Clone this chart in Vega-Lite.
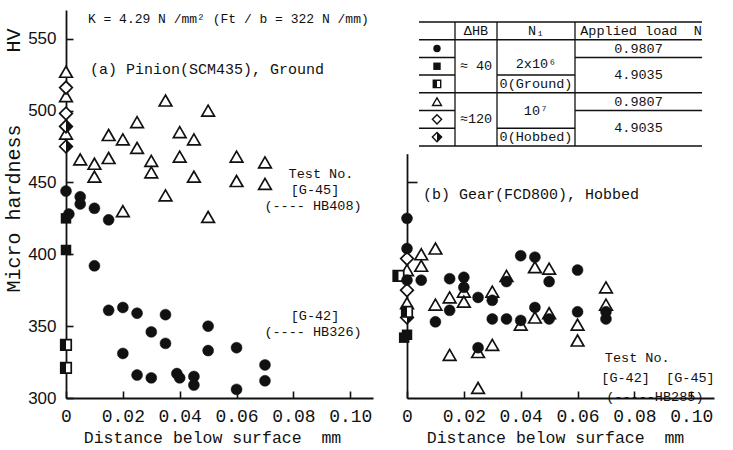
{
"$schema": "https://vega.github.io/schema/vega-lite/v6.json",
"background": "white",
"padding": {"left": 3, "top": 10, "right": 5, "bottom": 0},
"spacing": 34,
"bounds": "flush",
"config": {
  "view": {"stroke": null},
  "axis": {"domainColor": "#111", "domainWidth": 1.8, "tickColor": "#111", "tickWidth": 1.6, "labelColor": "#111", "titleColor": "#111", "grid": false, "labelOverlap": false, "labelFlush": false},
  "text": {"font": "Liberation Mono, DejaVu Sans Mono", "color": "#111"}
},
"datasets": {
  "pts": [
    {"panel":"a","sym":"tri","x":0,"y":527},{"panel":"a","sym":"tri","x":0,"y":510},{"panel":"a","sym":"tri","x":0,"y":484},
    {"panel":"a","sym":"tri","x":0.005,"y":466},{"panel":"a","sym":"tri","x":0.01,"y":463},{"panel":"a","sym":"tri","x":0.01,"y":454},
    {"panel":"a","sym":"tri","x":0.015,"y":483},{"panel":"a","sym":"tri","x":0.015,"y":467},{"panel":"a","sym":"tri","x":0.02,"y":480},
    {"panel":"a","sym":"tri","x":0.02,"y":430},{"panel":"a","sym":"tri","x":0.025,"y":492},{"panel":"a","sym":"tri","x":0.025,"y":474},
    {"panel":"a","sym":"tri","x":0.03,"y":465},{"panel":"a","sym":"tri","x":0.03,"y":457},{"panel":"a","sym":"tri","x":0.035,"y":507},
    {"panel":"a","sym":"tri","x":0.035,"y":441},{"panel":"a","sym":"tri","x":0.04,"y":485},{"panel":"a","sym":"tri","x":0.04,"y":468},
    {"panel":"a","sym":"tri","x":0.045,"y":480},{"panel":"a","sym":"tri","x":0.045,"y":454},{"panel":"a","sym":"tri","x":0.05,"y":500},
    {"panel":"a","sym":"tri","x":0.05,"y":426},{"panel":"a","sym":"tri","x":0.06,"y":468},{"panel":"a","sym":"tri","x":0.06,"y":451},
    {"panel":"a","sym":"tri","x":0.07,"y":464},{"panel":"a","sym":"tri","x":0.07,"y":449},
    {"panel":"a","sym":"dia","x":0,"y":516},{"panel":"a","sym":"dia","x":0,"y":498},
    {"panel":"a","sym":"hdia","x":0,"y":489},{"panel":"a","sym":"hdia","x":0,"y":475},
    {"panel":"a","sym":"hsq","x":0,"y":337},{"panel":"a","sym":"hsq","x":0,"y":321},
    {"panel":"a","sym":"circ","x":0,"y":444},{"panel":"a","sym":"circ","x":0.001,"y":428},{"panel":"a","sym":"circ","x":0.005,"y":440},
    {"panel":"a","sym":"circ","x":0.005,"y":435},{"panel":"a","sym":"circ","x":0.01,"y":432},{"panel":"a","sym":"circ","x":0.01,"y":392},
    {"panel":"a","sym":"circ","x":0.015,"y":424},{"panel":"a","sym":"circ","x":0.015,"y":361},{"panel":"a","sym":"circ","x":0.02,"y":363},
    {"panel":"a","sym":"circ","x":0.02,"y":331},{"panel":"a","sym":"circ","x":0.025,"y":359},{"panel":"a","sym":"circ","x":0.025,"y":316},
    {"panel":"a","sym":"circ","x":0.03,"y":346},{"panel":"a","sym":"circ","x":0.03,"y":314},{"panel":"a","sym":"circ","x":0.035,"y":358},
    {"panel":"a","sym":"circ","x":0.035,"y":338},{"panel":"a","sym":"circ","x":0.039,"y":317},{"panel":"a","sym":"circ","x":0.04,"y":314},
    {"panel":"a","sym":"circ","x":0.045,"y":315},{"panel":"a","sym":"circ","x":0.045,"y":309},{"panel":"a","sym":"circ","x":0.05,"y":350},
    {"panel":"a","sym":"circ","x":0.05,"y":333},{"panel":"a","sym":"circ","x":0.06,"y":335},{"panel":"a","sym":"circ","x":0.06,"y":306},
    {"panel":"a","sym":"circ","x":0.07,"y":323},{"panel":"a","sym":"circ","x":0.07,"y":312},
    {"panel":"a","sym":"sq","x":0,"y":425},{"panel":"a","sym":"sq","x":0,"y":403},

    {"panel":"b","sym":"tri","x":0,"y":389},{"panel":"b","sym":"tri","x":0,"y":366},{"panel":"b","sym":"tri","x":0.005,"y":400},
    {"panel":"b","sym":"tri","x":0.005,"y":392},{"panel":"b","sym":"tri","x":0.01,"y":404},{"panel":"b","sym":"tri","x":0.01,"y":365},
    {"panel":"b","sym":"tri","x":0.015,"y":370},{"panel":"b","sym":"tri","x":0.015,"y":330},{"panel":"b","sym":"tri","x":0.02,"y":374},
    {"panel":"b","sym":"tri","x":0.02,"y":367},{"panel":"b","sym":"tri","x":0.025,"y":332},{"panel":"b","sym":"tri","x":0.025,"y":307},
    {"panel":"b","sym":"tri","x":0.03,"y":374},{"panel":"b","sym":"tri","x":0.03,"y":337},{"panel":"b","sym":"tri","x":0.035,"y":385},
    {"panel":"b","sym":"tri","x":0.04,"y":351},{"panel":"b","sym":"tri","x":0.045,"y":391},{"panel":"b","sym":"tri","x":0.045,"y":356},
    {"panel":"b","sym":"tri","x":0.05,"y":390},{"panel":"b","sym":"tri","x":0.05,"y":359},{"panel":"b","sym":"tri","x":0.06,"y":351},
    {"panel":"b","sym":"tri","x":0.06,"y":340},{"panel":"b","sym":"tri","x":0.07,"y":377},{"panel":"b","sym":"tri","x":0.07,"y":365},
    {"panel":"b","sym":"dia","x":0,"y":397},{"panel":"b","sym":"dia","x":0,"y":375},
    {"panel":"b","sym":"hdia","x":0,"y":356},
    {"panel":"b","sym":"hsq","x":-0.003,"y":385},{"panel":"b","sym":"hsq","x":0,"y":360},
    {"panel":"b","sym":"circ","x":0,"y":425},{"panel":"b","sym":"circ","x":0,"y":404},{"panel":"b","sym":"circ","x":0,"y":382},
    {"panel":"b","sym":"circ","x":0.005,"y":382},{"panel":"b","sym":"circ","x":0.01,"y":353},{"panel":"b","sym":"circ","x":0.015,"y":383},
    {"panel":"b","sym":"circ","x":0.015,"y":361},{"panel":"b","sym":"circ","x":0.02,"y":384},{"panel":"b","sym":"circ","x":0.02,"y":377},
    {"panel":"b","sym":"circ","x":0.025,"y":370},{"panel":"b","sym":"circ","x":0.025,"y":335},{"panel":"b","sym":"circ","x":0.03,"y":368},
    {"panel":"b","sym":"circ","x":0.03,"y":355},{"panel":"b","sym":"circ","x":0.035,"y":355},{"panel":"b","sym":"circ","x":0.035,"y":381},
    {"panel":"b","sym":"circ","x":0.04,"y":399},{"panel":"b","sym":"circ","x":0.04,"y":354},{"panel":"b","sym":"circ","x":0.045,"y":398},
    {"panel":"b","sym":"circ","x":0.045,"y":363},{"panel":"b","sym":"circ","x":0.05,"y":381},{"panel":"b","sym":"circ","x":0.05,"y":355},
    {"panel":"b","sym":"circ","x":0.06,"y":389},{"panel":"b","sym":"circ","x":0.06,"y":360},{"panel":"b","sym":"circ","x":0.07,"y":360},
    {"panel":"b","sym":"circ","x":0.07,"y":355},
    {"panel":"b","sym":"sq","x":0,"y":344},{"panel":"b","sym":"sq","x":-0.001,"y":342}
  ],
  "notes": [
    {"panel":"a","kind":"head","x":0.0084,"y":529,"label":"(a) Pinion(SCM435), Ground"},
    {"panel":"a","kind":"k","x":0.0077,"y":563.5,"label":"K = 4.29 N /mm² (Ft / b = 322 N /mm)"},
    {"panel":"a","kind":"note","x":0.0897,"y":456,"label":"Test No."},
    {"panel":"a","kind":"note","x":0.0876,"y":444.5,"label":"[G-45]"},
    {"panel":"a","kind":"note","x":0.0869,"y":433.5,"label":"(---- HB408)"},
    {"panel":"a","kind":"note","x":0.0876,"y":357,"label":"[G-42]"},
    {"panel":"a","kind":"note","x":0.0869,"y":346,"label":"(---- HB326)"},
    {"panel":"b","kind":"head","x":0.0056,"y":442,"label":"(b) Gear(FCD800), Hobbed"},
    {"panel":"b","kind":"note","x":0.081,"y":328,"label":"Test No."},
    {"panel":"b","kind":"note","x":0.0883,"y":314,"label":"[G-42]\u00a0\u00a0[G-45]"},
    {"panel":"b","kind":"note","x":0.0872,"y":300.5,"label":"(-----HB285)"}
  ],
  "tblh": [
    {"u1":0,"u2":283,"r":0},{"u1":0,"u2":283,"r":1},{"u1":0,"u2":36,"r":2},{"u1":156,"u2":283,"r":2},
    {"u1":0,"u2":36,"r":3},{"u1":78,"u2":156,"r":3},{"u1":0,"u2":283,"r":4},{"u1":0,"u2":36,"r":5},
    {"u1":156,"u2":283,"r":5},{"u1":0,"u2":36,"r":6},{"u1":78,"u2":156,"r":6},{"u1":0,"u2":283,"r":7}
  ],
  "tblv": [
    {"u":36,"r1":0,"r2":7},{"u":78,"r1":0,"r2":7},{"u":156,"r1":0,"r2":7}
  ],
  "tblt": [
    {"u":57,"r":0.5,"label":"ΔHB"},{"u":117,"r":0.5,"label":"N₁"},{"u":222,"r":0.5,"label":"Applied load\u00a0\u00a0N"},
    {"u":57,"r":2.5,"label":"≈ 40"},{"u":117,"r":2.4,"label":"2x10⁶"},{"u":117,"r":3.5,"label":"0(Ground)"},
    {"u":219.5,"r":1.5,"label":"0.9807"},{"u":219.5,"r":3,"label":"4.9035"},
    {"u":57,"r":5.5,"label":"≈120"},{"u":117,"r":5,"label":"10⁷"},{"u":117,"r":6.5,"label":"0(Hobbed)"},
    {"u":219.5,"r":4.5,"label":"0.9807"},{"u":219.5,"r":6,"label":"4.9035"}
  ],
  "tbls": [
    {"sym":"circ","u":18,"r":1.5},{"sym":"sq","u":18,"r":2.5},{"sym":"hsq","u":18,"r":3.5},
    {"sym":"tri","u":18,"r":4.5},{"sym":"dia","u":18,"r":5.5},{"sym":"hdia","u":18,"r":6.5}
  ]
},
"hconcat": [
  {
    "width": 307, "height": 388,
    "encoding": {
      "x": {"field":"x","type":"quantitative","scale":{"domain":[0,0.108],"nice":false,"zero":false},
        "axis":{"values":[0,0.02,0.04,0.06,0.08,0.1],"labelExpr":"datum.value == 0 ? '0' : format(datum.value, '.2f')","tickSize":-7,"labelPadding":16,"labelFont":"Liberation Mono","labelFontSize":18,"title":"Distance below surface\u00a0\u00a0mm","titleFont":"Liberation Mono","titleFontSize":16.5,"titleFontWeight":"normal","titleX":146,"titleY":39,"titleBaseline":"middle","titleAlign":"center"}},
      "y": {"field":"y","type":"quantitative","scale":{"domain":[300,570],"nice":false,"zero":false},
        "axis":{"values":[300,350,400,450,500,550],"tickSize":-7,"labelPadding":17,"labelFont":"Liberation Sans","labelFontSize":17,"title":"Micro hardness\u00a0\u00a0\u00a0\u00a0\u00a0\u00a0HV","titleFont":"Liberation Mono","titleFontSize":20,"titleFontWeight":"normal","titleAngle":270,"titleAlign":"right","titleBaseline":"middle","titleX":-53,"titleY":18}}
    },
    "layer": [
      {"data":{"name":"pts"},"transform":[{"filter":"datum.panel == 'a'"}],
       "layer":[
         {"transform":[{"filter":"datum.sym == 'tri'"}],"mark":{"type":"point","shape":"triangle-up","size":160,"filled":true,"fill":"white","stroke":"#111","strokeWidth":1.7,"opacity":1}},
         {"transform":[{"filter":"datum.sym == 'dia' || datum.sym == 'hdia'"}],"mark":{"type":"point","shape":"diamond","size":160,"filled":true,"fill":"white","stroke":"#111","strokeWidth":1.7,"opacity":1}},
         {"transform":[{"filter":"datum.sym == 'hdia'"}],"mark":{"type":"point","shape":"M0,-1L1,0L0,1Z","size":160,"filled":true,"fill":"#111","strokeWidth":0,"opacity":1}},
         {"transform":[{"filter":"datum.sym == 'hsq'"}],"mark":{"type":"point","shape":"square","size":110,"filled":true,"fill":"white","stroke":"#111","strokeWidth":1.7,"opacity":1}},
         {"transform":[{"filter":"datum.sym == 'hsq'"}],"mark":{"type":"point","shape":"M-1,-1L0,-1L0,1L-1,1Z","size":110,"filled":true,"fill":"#111","strokeWidth":0,"opacity":1}},
         {"transform":[{"filter":"datum.sym == 'circ'"}],"mark":{"type":"point","shape":"circle","size":120,"filled":true,"fill":"#111","stroke":"#111","strokeWidth":0.5,"opacity":1}},
         {"transform":[{"filter":"datum.sym == 'sq'"}],"mark":{"type":"point","shape":"square","size":110,"filled":true,"fill":"#111","opacity":1}}
       ]},
      {"data":{"name":"notes"},"transform":[{"filter":"datum.panel == 'a'"}],
       "layer":[
         {"transform":[{"filter":"datum.kind == 'head'"}],"mark":{"type":"text","align":"left","baseline":"middle","fontSize":15},"encoding":{"text":{"field":"label","type":"nominal"}}},
         {"transform":[{"filter":"datum.kind == 'k'"}],"mark":{"type":"text","align":"left","baseline":"middle","fontSize":13},"encoding":{"text":{"field":"label","type":"nominal"}}},
         {"transform":[{"filter":"datum.kind == 'note'"}],"mark":{"type":"text","align":"center","baseline":"middle","fontSize":13.5},"encoding":{"text":{"field":"label","type":"nominal"}}}
       ]}
    ]
  },
  {
    "width": 307, "height": 388,
    "layer": [
      {
        "encoding": {
          "x": {"field":"x","type":"quantitative","scale":{"domain":[0,0.108],"nice":false,"zero":false},
            "axis":{"values":[0,0.02,0.04,0.06,0.08,0.1],"labelExpr":"datum.value == 0 ? '0' : format(datum.value, '.2f')","tickSize":-7,"labelPadding":16,"labelFont":"Liberation Mono","labelFontSize":18,"title":"Distance below surface\u00a0\u00a0mm","titleFont":"Liberation Mono","titleFontSize":16.5,"titleFontWeight":"normal","titleX":148,"titleY":39,"titleBaseline":"middle","titleAlign":"center"}},
          "y": {"field":"y","type":"quantitative","scale":{"domain":[300,470],"nice":false,"zero":false,"range":[388,143.7]},
            "axis":{"values":[450],"tickSize":-10,"labels":false,"title":null}}
        },
        "layer": [
          {"data":{"name":"pts"},"transform":[{"filter":"datum.panel == 'b'"}],
           "layer":[
             {"transform":[{"filter":"datum.sym == 'tri'"}],"mark":{"type":"point","shape":"triangle-up","size":160,"filled":true,"fill":"white","stroke":"#111","strokeWidth":1.7,"opacity":1}},
             {"transform":[{"filter":"datum.sym == 'dia' || datum.sym == 'hdia'"}],"mark":{"type":"point","shape":"diamond","size":160,"filled":true,"fill":"white","stroke":"#111","strokeWidth":1.7,"opacity":1}},
             {"transform":[{"filter":"datum.sym == 'hdia'"}],"mark":{"type":"point","shape":"M0,-1L1,0L0,1Z","size":160,"filled":true,"fill":"#111","strokeWidth":0,"opacity":1}},
             {"transform":[{"filter":"datum.sym == 'hsq'"}],"mark":{"type":"point","shape":"square","size":110,"filled":true,"fill":"white","stroke":"#111","strokeWidth":1.7,"opacity":1}},
             {"transform":[{"filter":"datum.sym == 'hsq'"}],"mark":{"type":"point","shape":"M-1,-1L0,-1L0,1L-1,1Z","size":110,"filled":true,"fill":"#111","strokeWidth":0,"opacity":1}},
             {"transform":[{"filter":"datum.sym == 'circ'"}],"mark":{"type":"point","shape":"circle","size":120,"filled":true,"fill":"#111","stroke":"#111","strokeWidth":0.5,"opacity":1}},
             {"transform":[{"filter":"datum.sym == 'sq'"}],"mark":{"type":"point","shape":"square","size":110,"filled":true,"fill":"#111","opacity":1}}
           ]},
          {"data":{"name":"notes"},"transform":[{"filter":"datum.panel == 'b'"}],
           "layer":[
             {"transform":[{"filter":"datum.kind == 'head'"}],"mark":{"type":"text","align":"left","baseline":"middle","fontSize":15},"encoding":{"text":{"field":"label","type":"nominal"}}},
             {"transform":[{"filter":"datum.kind == 'note'"}],"mark":{"type":"text","align":"center","baseline":"middle","fontSize":13.5},"encoding":{"text":{"field":"label","type":"nominal"}}}
           ]}
        ]
      },
      {
        "layer": [
          {"data":{"name":"tblh"},"mark":{"type":"rule","strokeWidth":1.5,"color":"#111"},
           "encoding":{"x":{"field":"u1","type":"quantitative","scale":{"domain":[-12,295],"nice":false,"zero":false},"axis":null},"x2":{"field":"u2"},
                       "y":{"field":"r","type":"quantitative","scale":{"domain":[-0.678,21.243],"nice":false,"zero":false,"reverse":true},"axis":null}}},
          {"data":{"name":"tblv"},"mark":{"type":"rule","strokeWidth":1.3,"color":"#111"},
           "encoding":{"x":{"field":"u","type":"quantitative","scale":{"domain":[-12,295],"nice":false,"zero":false},"axis":null},
                       "y":{"field":"r1","type":"quantitative","scale":{"domain":[-0.678,21.243],"nice":false,"zero":false,"reverse":true},"axis":null},"y2":{"field":"r2"}}},
          {"data":{"name":"tblt"},"mark":{"type":"text","align":"center","baseline":"middle","fontSize":13.5},
           "encoding":{"x":{"field":"u","type":"quantitative","scale":{"domain":[-12,295],"nice":false,"zero":false},"axis":null},
                       "y":{"field":"r","type":"quantitative","scale":{"domain":[-0.678,21.243],"nice":false,"zero":false,"reverse":true},"axis":null},
                       "text":{"field":"label","type":"nominal"}}},
          {"data":{"name":"tbls"},
           "encoding":{"x":{"field":"u","type":"quantitative","scale":{"domain":[-12,295],"nice":false,"zero":false},"axis":null},
                       "y":{"field":"r","type":"quantitative","scale":{"domain":[-0.678,21.243],"nice":false,"zero":false,"reverse":true},"axis":null}},
           "layer":[
             {"transform":[{"filter":"datum.sym == 'tri'"}],"mark":{"type":"point","shape":"triangle-up","size":80,"filled":true,"fill":"white","stroke":"#111","strokeWidth":1.4,"opacity":1}},
             {"transform":[{"filter":"datum.sym == 'dia' || datum.sym == 'hdia'"}],"mark":{"type":"point","shape":"diamond","size":85,"filled":true,"fill":"white","stroke":"#111","strokeWidth":1.4,"opacity":1}},
             {"transform":[{"filter":"datum.sym == 'hdia'"}],"mark":{"type":"point","shape":"M0,-1L1,0L0,1Z","size":85,"filled":true,"fill":"#111","strokeWidth":0,"opacity":1}},
             {"transform":[{"filter":"datum.sym == 'hsq'"}],"mark":{"type":"point","shape":"square","size":55,"filled":true,"fill":"white","stroke":"#111","strokeWidth":1.4,"opacity":1}},
             {"transform":[{"filter":"datum.sym == 'hsq'"}],"mark":{"type":"point","shape":"M-1,-1L0,-1L0,1L-1,1Z","size":55,"filled":true,"fill":"#111","strokeWidth":0,"opacity":1}},
             {"transform":[{"filter":"datum.sym == 'circ'"}],"mark":{"type":"point","shape":"circle","size":55,"filled":true,"fill":"#111","opacity":1}},
             {"transform":[{"filter":"datum.sym == 'sq'"}],"mark":{"type":"point","shape":"square","size":55,"filled":true,"fill":"#111","opacity":1}}
           ]}
        ]
      }
    ],
    "resolve": {"scale": {"x": "independent", "y": "independent"}, "axis": {"x": "independent", "y": "independent"}}
  }
]
}
